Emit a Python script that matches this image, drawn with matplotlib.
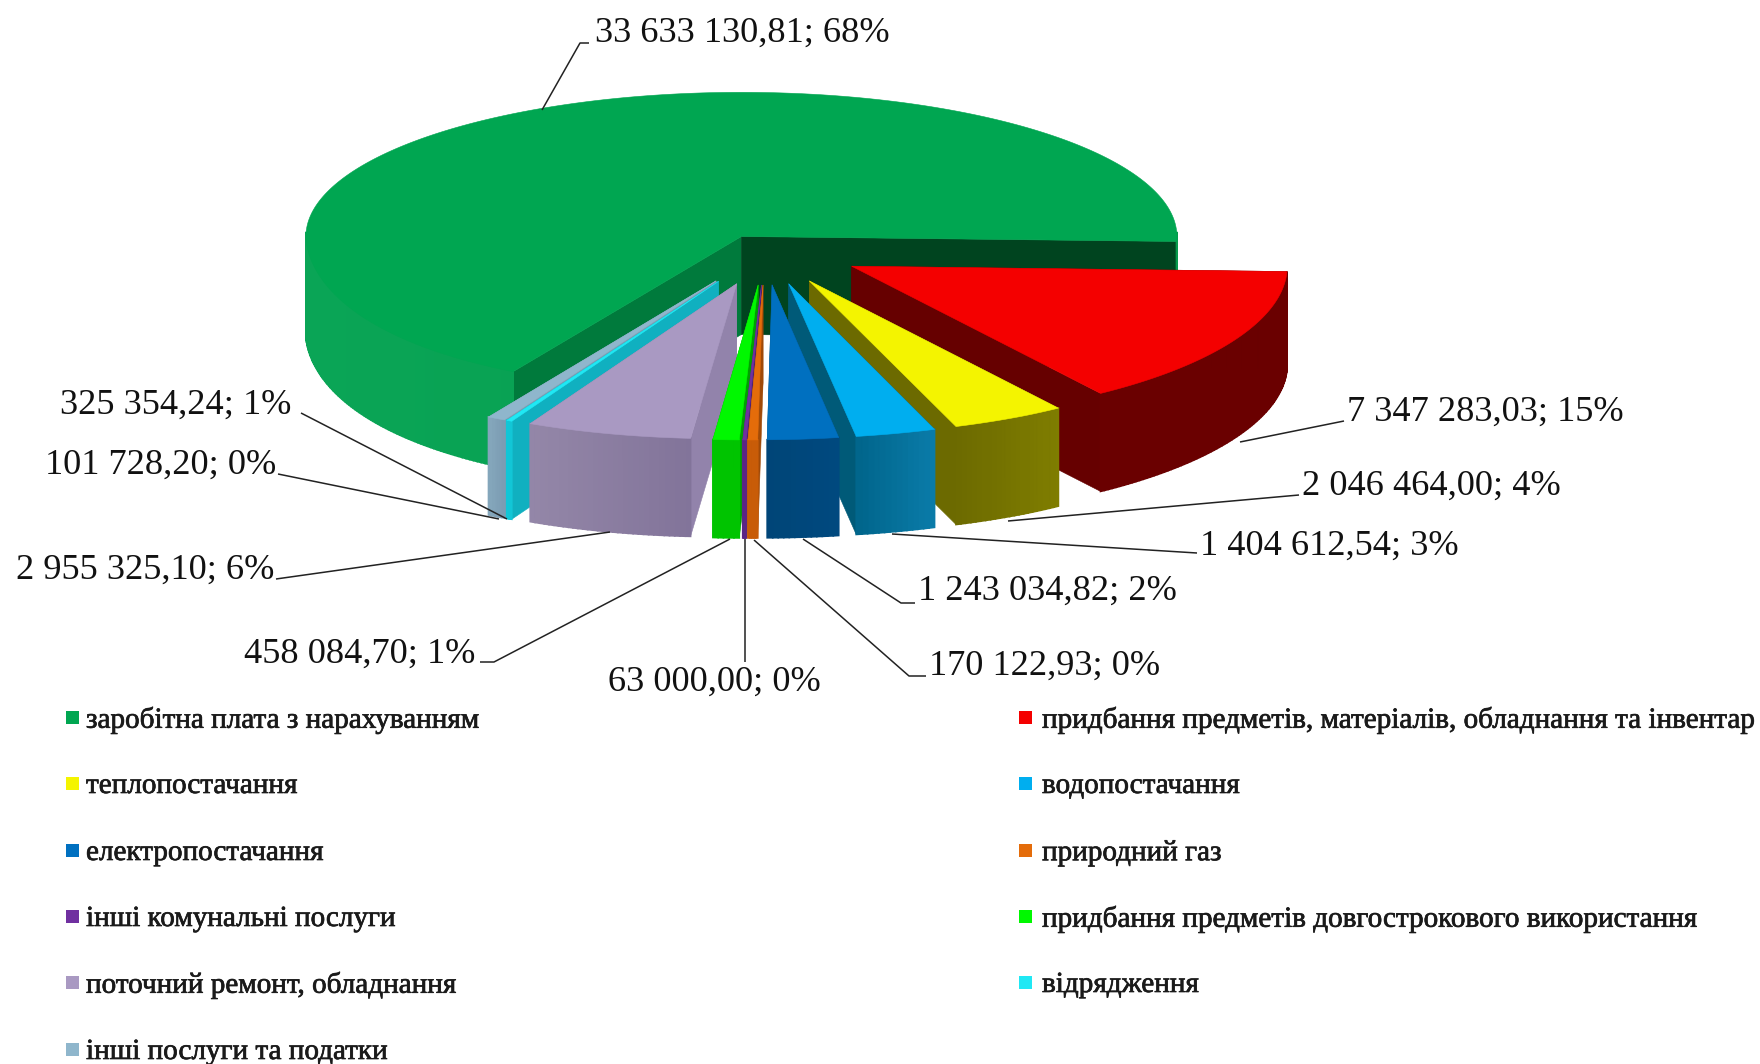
import numpy as np
import matplotlib
matplotlib.use("Agg")
import matplotlib.pyplot as plt
import matplotlib.patheffects as pe
from matplotlib.patches import Polygon, Rectangle

categories = ["заробітна плата з нарахуванням", "придбання предметів, матеріалів, обладнання та інвентар",
              "теплопостачання", "водопостачання", "електропостачання", "природний газ",
              "інші комунальні послуги", "придбання предметів довгострокового використання",
              "поточний ремонт, обладнання", "відрядження", "інші послуги та податки"]
values = [33633130.81, 7347283.03, 2046464.00, 1404612.54, 1243034.82, 170122.93,
          63000.00, 458084.70, 2955325.10, 101728.20, 325354.24]
percents = [68, 15, 4, 3, 2, 0, 0, 1, 6, 0, 1]

top_colors = ["#00a651", "#f40000", "#f4f400", "#00aeef", "#0070c0", "#e46c0a", "#7030a0", "#00f800", "#a999c2", "#20e8f4", "#8fb6cc"]
side_a = ["#0aa556", "#6a0000", "#6c6a00", "#00648a", "#004577", "#c85c08", "#5a2585", "#00c400", "#9487a8", "#12c6d6", "#86a8bd"]
side_b = ["#069a4c", "#6a0000", "#7f7d00", "#0a7ba8", "#00497f", "#c85c08", "#5a2585", "#00c400", "#82749a", "#12c6d6", "#7c9db3"]
wall_end = ["#00441f", "#660000", "#6c6a00", "#005a78", "#004a70", "#a04a08", "#4a2070", "#00a000", "#9283ab", "#10b0c0", "#7a9db2"]
wall_start = ["#007a3c", "#660000", "#6c6a00", "#005a78", "#004a70", "#a04a08", "#4a2070", "#00a000", "#9283ab", "#10b0c0", "#7a9db2"]
explode = [0.10, 0.232, 0.232, 0.232, 0.232, 0.232, 0.232, 0.232, 0.232, 0.232, 0.232]
warp_strength = [28, 14, 14, 14, 14, 14, 14, 14, 14, 14, 14]
draw_order = [0, 1, 2, 3, 4, 10, 9, 8, 7, 6, 5]

label_xy = [(595, 33), (1347, 412), (1302, 486), (1200, 546), (918, 591), (929, 666), (608, 682),
            (244, 654), (16, 570), (45, 465), (60, 405)]
leaders = [[(589, 43), (580, 43), (542, 110)],
           [(1344, 421), (1240, 442)],
           [(1299, 495), (1008, 521)],
           [(1197, 553), (892, 534)],
           [(915, 603), (901, 603), (803, 539)],
           [(926, 676), (909, 676), (754, 540)],
           [(745, 662), (745, 539)],
           [(480, 662), (494, 662), (730, 539)],
           [(276, 579), (610, 532)],
           [(278, 474), (499, 519)],
           [(301, 413), (507, 519)]]
legend_rows = [720, 786, 853, 919, 985, 1052]
legend_cols = [(66, 86), (1019, 1042)]

CX, CY, RX, RY, DEPTH = 763, 249, 435.5, 155, 98
BACK_SQUASH = 0.93
START = 241.4


def project(X, Y, z=0.0, k=14):
    X, Y = np.asarray(X, float), np.asarray(Y, float)
    warp = -k * np.clip(0.6 - X, 0, None) * np.clip(-Y, 0, None) ** 2
    sy = np.where(Y > 0, Y * BACK_SQUASH, Y)
    return np.column_stack([CX + RX * X + warp, CY - RY * sy + DEPTH * z * np.ones_like(X)])


def mix(a, b, t):
    ca, cb = np.array(matplotlib.colors.to_rgb(a)), np.array(matplotlib.colors.to_rgb(b))
    return tuple(ca + (cb - ca) * t)


fig = plt.figure(figsize=(17.6, 10.64), dpi=100)
ax = fig.add_axes([0, 0, 1, 1])
ax.set_xlim(0, 1760)
ax.set_ylim(1064, 0)
ax.axis("off")
plt.rcParams["font.family"] = ["Liberation Serif", "DejaVu Serif"]

sweeps = 360 * np.array(values) / sum(values)
starts = START - np.concatenate([[0], np.cumsum(sweeps)[:-1]])
ends = starts - sweeps


def poly(pts, color, z, lw=0.4):
    ax.add_patch(Polygon(pts, closed=True, facecolor=color, edgecolor=color, linewidth=lw, zorder=z))


for rank, i in enumerate(draw_order):
    t0, t1 = np.radians(starts[i]), np.radians(ends[i])
    mid = (t0 + t1) / 2
    ox, oy = explode[i] * np.cos(mid), explode[i] * np.sin(mid)
    ts = np.linspace(t0, t1, max(int(abs(t1 - t0) * 90), 6))
    ax_x, ax_y = ox + np.cos(ts), oy + np.sin(ts)
    k = warp_strength[i]
    apex_top = project([ox], [oy], 0, k)[0]
    apex_bot = project([ox], [oy], 1, k)[0]
    arc_top = project(ax_x, ax_y, 0, k)
    arc_bot = project(ax_x, ax_y, 1, k)
    z = 2 + rank
    poly([apex_top, arc_top[0], arc_bot[0], apex_bot], wall_start[i], z)
    poly([apex_top, arc_top[-1], arc_bot[-1], apex_bot], wall_end[i], z)
    n = len(ts)
    xs = arc_top[:, 0]
    lo, hi = xs.min(), xs.max()
    for j in range(n - 1):
        if np.sin((ts[j] + ts[j + 1]) / 2) < 0.03:
            frac = (xs[j] - lo) / max(hi - lo, 1)
            c = mix(side_a[i], side_b[i], frac)
            poly([arc_top[j], arc_top[j + 1], arc_bot[j + 1], arc_bot[j]], c, z, lw=1.2)
    poly(np.vstack([apex_top, arc_top]), top_colors[i], z)

for (x, y), pts, v, p in zip(label_xy, leaders, values, percents):
    txt = f"{v:,.2f}".replace(",", " ").replace(".", ",") + f"; {p}%"
    ax.text(x, y, txt, fontsize=26.2, ha="left", va="center", color="#111111", zorder=30)
    arr = np.array(pts)
    ax.plot(arr[:, 0], arr[:, 1], color="#222222", lw=1.1, zorder=29, solid_capstyle="butt")

for idx, (cat, col) in enumerate(zip(categories, top_colors)):
    row, colm = divmod(idx, 2)
    y = legend_rows[row]
    mx, tx = legend_cols[colm]
    ax.add_patch(Rectangle((mx, y - 9), 13, 13, facecolor=col, edgecolor="none", zorder=30))
    t = ax.text(tx, y, cat, fontsize=21, ha="left", va="center", color="#1a1a1a", zorder=30)
    t.set_path_effects([pe.withStroke(linewidth=0.5, foreground="#1a1a1a")])

fig.savefig("out.png", dpi=100)
